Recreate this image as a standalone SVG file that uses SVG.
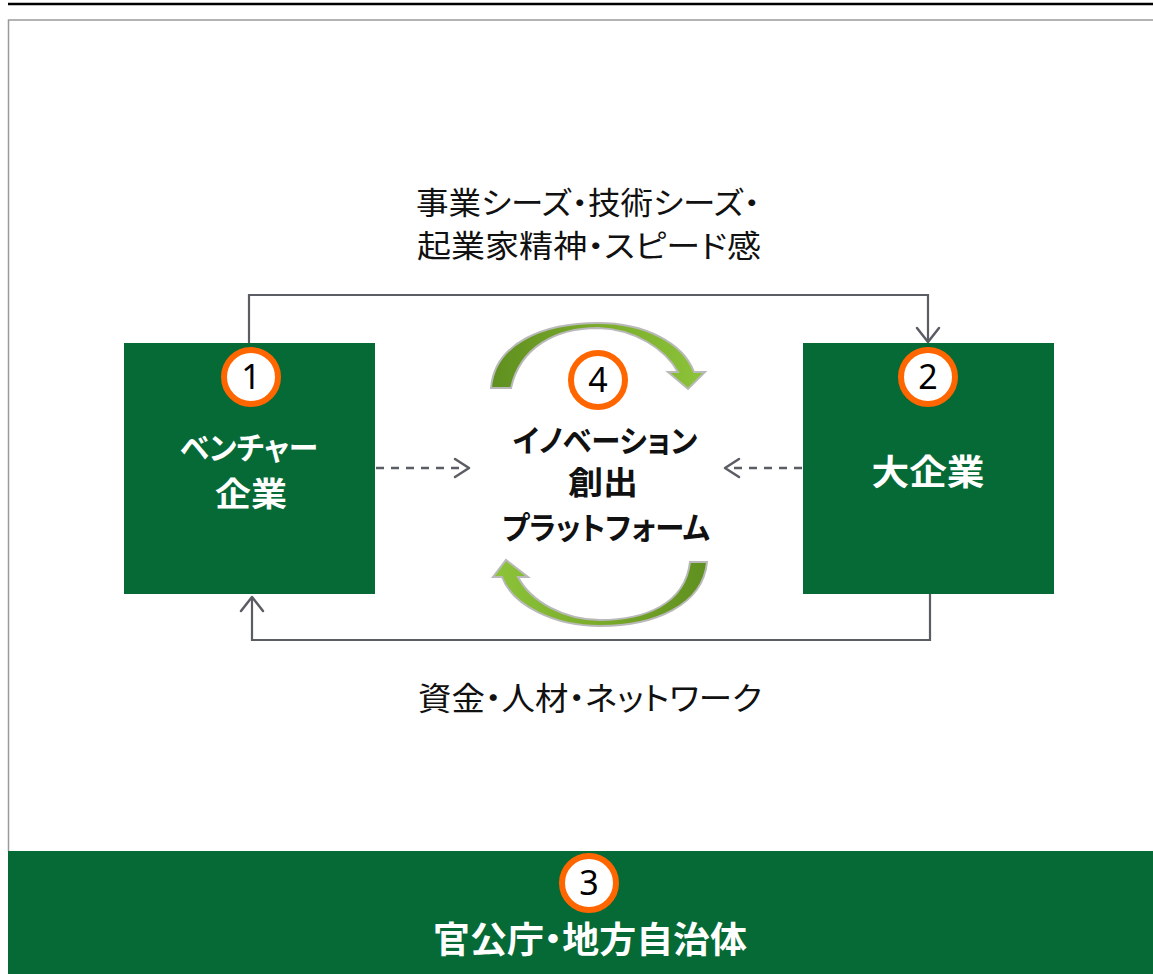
<svg xmlns="http://www.w3.org/2000/svg" width="1153" height="974" viewBox="0 0 1153 974">
<style>
.box{fill:#066a37}
text{font-feature-settings:"palt"}
.wt{fill:#fff;font-family:"Noto Sans CJK JP","Noto Sans",sans-serif;font-weight:bold;text-anchor:middle}
.bt{fill:#111;font-family:"Noto Sans CJK JP","Noto Sans",sans-serif;text-anchor:middle}
.num{fill:#000;font-family:"Noto Sans","Noto Sans CJK JP",sans-serif;font-size:34px;text-anchor:middle}
.badge{fill:#fff;stroke:#ff6600;stroke-width:6}
.con{fill:none;stroke:#5a5d63;stroke-width:2.2}
.dash{fill:none;stroke:#5a5d63;stroke-width:2.5;stroke-dasharray:8 7}
.head{fill:none;stroke:#5a5d63;stroke-width:2.5;stroke-linecap:round;stroke-linejoin:round}
</style>
<defs>
<linearGradient id="gTop" x1="0" y1="0" x2="1" y2="0">
<stop offset="0" stop-color="#5f8f1f"/>
<stop offset="0.5" stop-color="#7aab2a"/>
<stop offset="1" stop-color="#8cc43a"/>
</linearGradient>
<linearGradient id="gBot" x1="1" y1="0" x2="0" y2="0">
<stop offset="0" stop-color="#5f8f1f"/>
<stop offset="0.5" stop-color="#7aab2a"/>
<stop offset="1" stop-color="#8cc43a"/>
</linearGradient>
</defs>
<rect width="1153" height="974" fill="#fff"/>
<line x1="8" y1="4" x2="1153" y2="4" stroke="#000" stroke-width="2.6"/>
<path d="M1153,20 L8.5,20 L8.5,851" fill="none" stroke="#9a9a9a" stroke-width="1.5"/>

<g id="connectors">
<path class="con" d="M249,343 L249,295 L928,295 L928,342"/>
<path class="head" d="M917,328 L928,342 L939,328"/>
<path class="con" d="M930,594 L930,640 L252,640 L252,598"/>
<path class="head" d="M241,611 L252,597 L263,611"/>
<path class="dash" d="M376,468 L466,468"/>
<path class="head" d="M455,459 L469,468 L455,477"/>
<path class="dash" d="M802,468 L728,468"/>
<path class="head" d="M739,459 L725,468 L739,477"/>
</g>

<g id="node-venture">
<rect class="box" x="124" y="343" width="251" height="251"/>
<circle class="badge" cx="251" cy="377" r="27"/>
<text class="num" x="251" y="389">1</text>
<text class="wt" x="249" y="459" font-size="31" textLength="138" lengthAdjust="spacingAndGlyphs">ベンチャー</text>
<text class="wt" x="251" y="506" font-size="33" textLength="72" lengthAdjust="spacingAndGlyphs">企業</text>
</g>

<g id="node-large">
<rect class="box" x="803" y="343" width="251" height="251"/>
<circle class="badge" cx="928" cy="377" r="27"/>
<text class="num" x="928" y="389">2</text>
<text class="wt" x="928" y="485" font-size="35" textLength="113" lengthAdjust="spacingAndGlyphs">大企業</text>
</g>

<g id="node-platform">
<path d="M491,388 C495,342 545,323 598,323 C645,323 683,343 694,372 L705,372 L688,389 L668,372 L678,372 C665,349 635,329 598,328 C556,328 520,347 511,388 Z" fill="url(#gTop)" stroke="#b9b9b9" stroke-width="2"/>
<path d="M707,562 C703,605 655,626 600,626 C555,626 513,606 502,577 L493,577 L506,560 L528,577 L518,577 C531,602 565,620 600,620 C645,620 685,604 690,562 Z" fill="url(#gBot)" stroke="#b9b9b9" stroke-width="2"/>
<circle class="badge" cx="598" cy="380" r="27"/>
<text class="num" x="598" y="392">4</text>
<text class="bt" x="605" y="452" font-size="31" font-weight="bold" textLength="185" lengthAdjust="spacingAndGlyphs">イノベーション</text>
<text class="bt" x="603" y="494" font-size="32" font-weight="bold" textLength="70" lengthAdjust="spacingAndGlyphs">創出</text>
<text class="bt" x="606" y="539" font-size="31" font-weight="bold" textLength="208" lengthAdjust="spacingAndGlyphs">プラットフォーム</text>
</g>

<g id="label-top">
<text class="bt" x="588" y="214" font-size="31" textLength="344" lengthAdjust="spacingAndGlyphs">事業シーズ・技術シーズ・</text>
<text class="bt" x="589" y="257" font-size="31" textLength="344" lengthAdjust="spacingAndGlyphs">起業家精神・スピード感</text>
</g>

<g id="label-bottom">
<text class="bt" x="590" y="710" font-size="32" textLength="344" lengthAdjust="spacingAndGlyphs">資金・人材・ネットワーク</text>
</g>

<g id="node-government">
<rect class="box" x="8" y="851" width="1145" height="123"/>
<circle class="badge" cx="589" cy="883" r="27"/>
<text class="num" x="589" y="895">3</text>
<text class="wt" x="590" y="953" font-size="36" textLength="314" lengthAdjust="spacingAndGlyphs">官公庁・地方自治体</text>
</g>
</svg>
